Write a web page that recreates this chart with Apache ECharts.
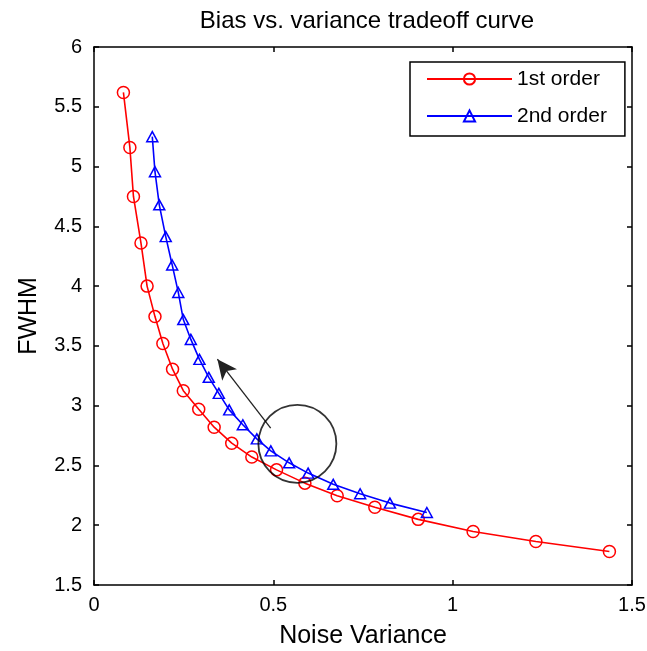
<!DOCTYPE html>
<html>
<head>
<meta charset="utf-8">
<script src="https://cdn.jsdelivr.net/npm/echarts@6/dist/echarts.min.js"></script>
<style>
html,body{margin:0;padding:0;background:#fff;}
#chart{width:647px;height:651px;}
</style>
</head>
<body>
<div id="chart"></div>
<script>
// Data
var firstOrderX = [0.082,0.100,0.110,0.131,0.148,0.170,0.192,0.219,0.249,0.292,0.335,0.384,0.440,0.509,0.588,0.678,0.783,0.904,1.057,1.232,1.437];
var firstOrderY = [5.62,5.16,4.75,4.36,4.00,3.745,3.52,3.305,3.125,2.97,2.82,2.686,2.57,2.463,2.352,2.246,2.151,2.049,1.947,1.864,1.78];
var secondOrderX = [0.1625,0.170,0.182,0.200,0.218,0.235,0.249,0.270,0.294,0.320,0.348,0.377,0.415,0.454,0.493,0.544,0.597,0.667,0.742,0.825,0.928];
var secondOrderY = [5.25,4.957,4.68,4.414,4.177,3.947,3.72,3.554,3.387,3.237,3.103,2.965,2.84,2.722,2.622,2.522,2.436,2.342,2.263,2.185,2.106];
var seriesNames = ['1st order','2nd order'];
var circleCenter = [0.567, 2.681];
var arrowTail = [0.4926, 2.812];
var arrowHead = [0.344, 3.389];
var xTicks = [0, 0.5, 1, 1.5];
var yTicks = [1.5, 2, 2.5, 3, 3.5, 4, 4.5, 5, 5.5, 6];

function zip(xs, ys){ return xs.map(function(x,i){ return [x, ys[i]]; }); }

var chart = echarts.init(document.getElementById('chart'), null, {renderer:'canvas'});
var FONT = 'Liberation Sans, Arial, sans-serif';
var axisCommon = {
  axisLine:{show:true, onZero:false, lineStyle:{color:'#000', width:1.5}},
  axisTick:{show:true, inside:true, length:5, lineStyle:{color:'#000', width:1.5}},
  splitLine:{show:false}
};
var option = {
  animation:false,
  backgroundColor:'#fff',
  title:{
    text:'Bias vs. variance tradeoff curve',
    left:362, textAlign:'center', top:4,
    textStyle:{fontFamily:FONT, fontSize:24, fontWeight:'normal', color:'#000'}
  },
  grid:{left:94, right:15, top:47, bottom:66, containLabel:false, outerBoundsMode:'none'},
  legend:{
    data:seriesNames,
    orient:'vertical',
    left:410, top:62,
    padding:[6, 18, 9, 16],
    itemWidth:85, itemHeight:14, itemGap:15,
    backgroundColor:'#fff', borderColor:'#000', borderWidth:1.5,
    textStyle:{fontFamily:FONT, fontSize:21, color:'#000', lineHeight:22}
  },
  xAxis:[
    Object.assign({
      type:'value', min:0, max:1.5, interval:0.5, position:'bottom',
      name:'Noise Variance', nameLocation:'middle', nameGap:39,
      nameTextStyle:{fontFamily:FONT, fontSize:25, color:'#000'},
      axisLabel:{fontFamily:FONT, fontSize:20, color:'#000', margin:10,
        formatter:function(v){ return xTicks.indexOf(v) >= 0 ? String(v) : ''; }}
    }, axisCommon),
    Object.assign({
      type:'value', min:0, max:1.5, interval:0.5, position:'top',
      axisLabel:{show:false}
    }, axisCommon)
  ],
  yAxis:[
    Object.assign({
      type:'value', min:1.5, max:6, interval:0.5, position:'left',
      name:'FWHM', nameLocation:'middle', nameGap:52,
      nameTextStyle:{fontFamily:FONT, fontSize:25, color:'#000'},
      axisLabel:{fontFamily:FONT, fontSize:20, color:'#000', margin:12,
        formatter:function(v){ return yTicks.indexOf(v) >= 0 ? String(v) : ''; }}
    }, axisCommon),
    Object.assign({
      type:'value', min:1.5, max:6, interval:0.5, position:'right',
      axisLabel:{show:false}
    }, axisCommon)
  ],
  series:[
    {
      name:seriesNames[0], type:'line', data:zip(firstOrderX, firstOrderY),
      symbol:'circle', symbolSize:12, showAllSymbol:true,
      lineStyle:{color:'#ff0000', width:1.6},
      itemStyle:{color:'rgba(255,0,0,0)', borderColor:'#ff0000', borderWidth:1.5},
      z:3
    },
    {
      name:seriesNames[1], type:'line', data:zip(secondOrderX, secondOrderY),
      symbol:'triangle', symbolSize:[11,10], showAllSymbol:true,
      lineStyle:{color:'#0000ff', width:1.6},
      itemStyle:{color:'rgba(0,0,255,0)', borderColor:'#0000ff', borderWidth:1.5},
      z:4,
      markLine:{
        silent:true, animation:false,
        symbol:['none','arrow'], symbolSize:[14,20],
        label:{show:false},
        lineStyle:{color:'#222', width:1.3, type:'solid'},
        data:[[{coord:arrowTail},{coord:arrowHead}]]
      }
    },
    {
      name:'annotation', type:'scatter', data:[circleCenter],
      symbol:'circle', symbolSize:78, silent:true,
      itemStyle:{color:'rgba(0,0,0,0)', borderColor:'#000', borderWidth:1.8},
      z:5
    }
  ]
};
chart.setOption(option);
</script>
</body>
</html>
